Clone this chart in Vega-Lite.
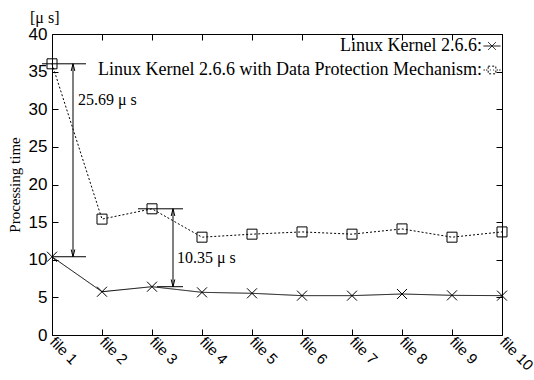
{
  "$schema": "https://vega.github.io/schema/vega-lite/v6.json",
  "width": 450,
  "height": 301,
  "autosize": {"type": "none"},
  "padding": {"left": 52, "top": 34, "right": 32, "bottom": 45},
  "background": "white",
  "config": {
    "view": {"stroke": "black", "strokeWidth": 1},
    "axis": {"grid": false, "domain": false, "tickColor": "black", "tickSize": -6, "labelColor": "black", "labelFont": "Liberation Sans", "titleFont": "Liberation Serif", "titleFontWeight": "normal", "titleColor": "black"}
  },
  "title": {"text": "[μ s]", "anchor": "start", "frame": "group", "dx": -22, "offset": -1, "font": "Liberation Serif", "fontSize": 16, "fontWeight": "normal", "color": "black"},
  "datasets": {
    "series": [
      {"file": 1, "time": 10.4, "series": "Linux Kernel 2.6.6:"},
      {"file": 2, "time": 5.75, "series": "Linux Kernel 2.6.6:"},
      {"file": 3, "time": 6.42, "series": "Linux Kernel 2.6.6:"},
      {"file": 4, "time": 5.67, "series": "Linux Kernel 2.6.6:"},
      {"file": 5, "time": 5.54, "series": "Linux Kernel 2.6.6:"},
      {"file": 6, "time": 5.23, "series": "Linux Kernel 2.6.6:"},
      {"file": 7, "time": 5.23, "series": "Linux Kernel 2.6.6:"},
      {"file": 8, "time": 5.45, "series": "Linux Kernel 2.6.6:"},
      {"file": 9, "time": 5.27, "series": "Linux Kernel 2.6.6:"},
      {"file": 10, "time": 5.23, "series": "Linux Kernel 2.6.6:"},
      {"file": 1, "time": 36.04, "series": "Linux Kernel 2.6.6 with Data Protection Mechanism:"},
      {"file": 2, "time": 15.4, "series": "Linux Kernel 2.6.6 with Data Protection Mechanism:"},
      {"file": 3, "time": 16.77, "series": "Linux Kernel 2.6.6 with Data Protection Mechanism:"},
      {"file": 4, "time": 13.0, "series": "Linux Kernel 2.6.6 with Data Protection Mechanism:"},
      {"file": 5, "time": 13.4, "series": "Linux Kernel 2.6.6 with Data Protection Mechanism:"},
      {"file": 6, "time": 13.7, "series": "Linux Kernel 2.6.6 with Data Protection Mechanism:"},
      {"file": 7, "time": 13.4, "series": "Linux Kernel 2.6.6 with Data Protection Mechanism:"},
      {"file": 8, "time": 14.1, "series": "Linux Kernel 2.6.6 with Data Protection Mechanism:"},
      {"file": 9, "time": 13.0, "series": "Linux Kernel 2.6.6 with Data Protection Mechanism:"},
      {"file": 10, "time": 13.7, "series": "Linux Kernel 2.6.6 with Data Protection Mechanism:"}
    ],
    "hrules": [
      {"x": 0.8, "x2": 1.68, "y": 36.04},
      {"x": 1.0, "x2": 1.68, "y": 10.4},
      {"x": 2.72, "x2": 3.62, "y": 16.77},
      {"x": 3.1, "x2": 3.62, "y": 6.42}
    ],
    "arrows": [
      {"x": 1.42, "y": 10.4, "y2": 36.04},
      {"x": 3.42, "y": 6.42, "y2": 16.77}
    ],
    "heads": [
      {"x": 1.42, "y": 36.04, "dir": "up"},
      {"x": 1.42, "y": 10.4, "dir": "down"},
      {"x": 3.42, "y": 16.77, "dir": "up"},
      {"x": 3.42, "y": 6.42, "dir": "down"}
    ],
    "labels": [
      {"x": 1.52, "y": 31.2, "text": "25.69 μ s"},
      {"x": 3.5, "y": 10.2, "text": "10.35 μ s"}
    ]
  },
  "resolve": {"axis": {"x": "independent", "y": "independent"}, "scale": {"shape": "independent"}},
  "layer": [
    {
      "data": {"name": "series"},
      "mark": {"type": "line", "strokeWidth": 1, "color": "black"},
      "encoding": {
        "x": {"field": "file", "type": "quantitative", "scale": {"domain": [1, 10], "nice": false}, "axis": {"values": [1,2,3,4,5,6,7,8,9,10], "labelExpr": "'file ' + datum.value", "labelAngle": 45, "labelAlign": "left", "labelBaseline": "middle", "labelFontSize": 15, "labelPadding": 10, "title": null}},
        "y": {"field": "time", "type": "quantitative", "scale": {"domain": [0, 40], "nice": false}, "axis": {"values": [0,5,10,15,20,25,30,35,40], "labelFontSize": 17, "labelPadding": 11, "title": "Processing time", "titleFontSize": 15, "titlePadding": 6}},
        "strokeDash": {"field": "series", "type": "nominal",
          "scale": {"domain": ["Linux Kernel 2.6.6:", "Linux Kernel 2.6.6 with Data Protection Mechanism:"], "range": [[1, 0], [2, 2]]},
          "legend": {"title": null, "orient": "none", "legendX": 431, "legendY": 3, "labelFont": "Liberation Serif", "labelFontSize": 18, "labelColor": "black", "labelAlign": "right", "labelOffset": -19, "labelLimit": 500, "rowPadding": 6, "symbolSize": 72, "symbolStrokeWidth": 1, "symbolStrokeColor": "black",
            "encode": {"symbols": {"update": {
              "shape": {"signal": "datum.value === 'Linux Kernel 2.6.6:' ? 'M-2,0H2M-0.9,-0.9L0.9,0.9M-0.9,0.9L0.9,-0.9' : 'M-0.9,-0.9H0.9V0.9H-0.9ZM-2,0H-1.7M-1.4,0H-1.1M1.1,0H1.4M1.7,0H2M-0.5,0H-0.3M0.3,0H0.5'"},
              "strokeDash": {"value": []},
              "fill": {"value": "transparent"},
              "stroke": {"value": "black"}
            }}}
          }
        }
      }
    },
    {
      "data": {"name": "series"},
      "mark": {"type": "point", "filled": false, "strokeWidth": 1, "color": "black", "size": 100, "opacity": 1},
      "encoding": {
        "x": {"field": "file", "type": "quantitative", "axis": {"orient": "top", "values": [1,2,3,4,5,6,7,8,9,10], "labels": false, "title": null}},
        "y": {"field": "time", "type": "quantitative", "axis": {"orient": "right", "values": [0,5,10,15,20,25,30,35,40], "labels": false, "title": null}},
        "shape": {"field": "series", "type": "nominal", "scale": {"domain": ["Linux Kernel 2.6.6:", "Linux Kernel 2.6.6 with Data Protection Mechanism:"], "range": ["M-1,-1L1,1M-1,1L1,-1", "square"]}, "legend": null}
      }
    },
    {
      "data": {"name": "hrules"},
      "mark": {"type": "rule", "color": "black", "strokeWidth": 1, "clip": false},
      "encoding": {
        "x": {"field": "x", "type": "quantitative", "axis": null},
        "x2": {"field": "x2"},
        "y": {"field": "y", "type": "quantitative", "axis": null}
      }
    },
    {
      "data": {"name": "arrows"},
      "mark": {"type": "rule", "color": "black", "strokeWidth": 1},
      "encoding": {
        "x": {"field": "x", "type": "quantitative", "axis": null},
        "y": {"field": "y", "type": "quantitative", "axis": null},
        "y2": {"field": "y2"}
      }
    },
    {
      "data": {"name": "heads"},
      "mark": {"type": "point", "filled": false, "strokeWidth": 1, "color": "black", "size": 36, "opacity": 1},
      "encoding": {
        "x": {"field": "x", "type": "quantitative", "axis": null},
        "y": {"field": "y", "type": "quantitative", "axis": null},
        "shape": {"field": "dir", "type": "nominal", "scale": {"domain": ["up", "down"], "range": ["M-0.6,2.4L0,0L0.6,2.4", "M-0.6,-2.4L0,0L0.6,-2.4"]}, "legend": null}
      }
    },
    {
      "data": {"name": "labels"},
      "mark": {"type": "text", "align": "left", "baseline": "middle", "font": "Liberation Serif", "fontSize": 16, "color": "black"},
      "encoding": {
        "x": {"field": "x", "type": "quantitative", "axis": null},
        "y": {"field": "y", "type": "quantitative", "axis": null},
        "text": {"field": "text"}
      }
    }
  ]
}
